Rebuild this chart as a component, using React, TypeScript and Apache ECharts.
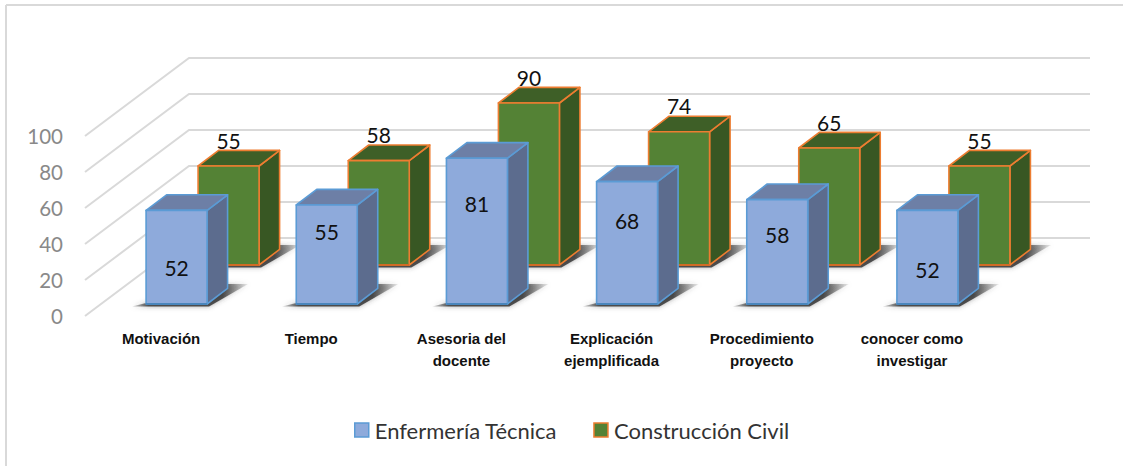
import React, { useEffect, useRef } from "react";
import * as echarts from "echarts";

const categories = [
  "Motivación",
  "Tiempo",
  "Asesoria del\ndocente",
  "Explicación\nejemplificada",
  "Procedimiento\nproyecto",
  "conocer como\ninvestigar",
];
const enfermeria = [52, 55, 81, 68, 58, 52];
const construccion = [55, 58, 90, 74, 65, 55];
const yTicks = [0, 20, 40, 60, 80, 100];
// vertical drop of each hand-placed front label below its bar top (px)
const blueLabelDrop = [57, 26, 45, 39, 35, 59];

const CALIBRI = "Lato, Carlito, sans-serif";
const DEPTH_X = 20.5;
const DEPTH_Y = 15.6;
const BAR_W = 61;

type Pal = { front: string; top: string; side: string; stroke: string; bottom: string };
const bluePal: Pal = { front: "#8EAADB", top: "#6D7FA6", side: "#5C6C8E", stroke: "#5B9BD5", bottom: "#4A86BC" };
const greenPal: Pal = { front: "#548235", top: "#3E5F27", side: "#385723", stroke: "#ED7D31", bottom: "#D06B25" };

function barRenderer(pal: Pal, offX: number, offY: number, labelFor: (i: number, v: number, topY: number) => number) {
  return (params: any, api: any) => {
    const i = api.value(0);
    const v = api.value(1);
    const top = api.coord([i, v]);
    const base = api.coord([i, 0]);
    const x0 = top[0] + offX;
    const x1 = x0 + BAR_W;
    const yT = top[1] + offY;
    const yB = base[1] + offY;
    const poly = (points: number[][], fill: string, stroke = pal.stroke) => ({
      type: "polygon",
      shape: { points },
      style: { fill, stroke, lineWidth: 1.6, lineJoin: "round" },
    });
    return {
      type: "group",
      children: [
        {
          type: "polygon",
          shape: {
            points: [
              [x0 - 14, yB + 2.5],
              [x1 + 2, yB + 2.5],
              [x1 + 41, yB - 20],
              [x1 + 14, yB - 20],
            ],
          },
          style: {
            fill: {
              type: "linear",
              x: 0,
              y: 0,
              x2: 1,
              y2: 0,
              colorStops: [
                { offset: 0, color: "rgba(70,70,70,0.2)" },
                { offset: 0.14, color: "rgba(45,45,45,0.8)" },
                { offset: 0.78, color: "rgba(45,45,45,0.8)" },
                { offset: 1, color: "rgba(70,70,70,0.1)" },
              ],
            },
            shadowBlur: 5,
            shadowColor: "rgba(60,60,60,0.55)",
          },
        },
        poly([[x1, yT], [x1 + DEPTH_X, yT - DEPTH_Y], [x1 + DEPTH_X, yB - DEPTH_Y], [x1, yB]], pal.side),
        poly([[x0, yT], [x1, yT], [x1 + DEPTH_X, yT - DEPTH_Y], [x0 + DEPTH_X, yT - DEPTH_Y]], pal.top),
        poly([[x0, yT], [x1, yT], [x1, yB], [x0, yB]], pal.front),
        {
          type: "line",
          shape: { x1: x0, y1: yB, x2: x1, y2: yB },
          style: { stroke: pal.bottom, lineWidth: 1.8 },
        },
        {
          type: "text",
          style: {
            text: String(v),
            x: x0 + BAR_W / 2,
            y: labelFor(i, v, yT),
            align: "center",
            verticalAlign: "middle",
            fontFamily: CALIBRI,
            fontSize: 21,
            fill: "#111111",
          },
        },
      ],
    };
  };
}

function gridRenderer(params: any, api: any) {
  const v = api.value(1);
  const p = api.coord([0, v]);
  const band = api.size([1, 0])[0];
  const xFront = p[0] - band / 2 - 1;
  const xBack = xFront + 104;
  const yBack = p[1] - 78;
  return {
    type: "polyline",
    shape: { points: [[xFront, p[1]], [xBack, yBack], [xFront + 1005, yBack]] },
    style: { fill: "none", stroke: "#D9D9D9", lineWidth: 2 },
  };
}

export default function App() {
  const ref = useRef<HTMLDivElement>(null);
  useEffect(() => {
    const chart = echarts.init(ref.current!, undefined, { renderer: "svg" });
    chart.setOption({
      animation: false,
      backgroundColor: "#ffffff",
      graphic: [
        { type: "line", shape: { x1: 6, y1: 5, x2: 1123, y2: 5 }, style: { stroke: "#D9D9D9", lineWidth: 2 } },
        { type: "line", shape: { x1: 6, y1: 5, x2: 6, y2: 466 }, style: { stroke: "#D9D9D9", lineWidth: 2 } },
      ],
      grid: { left: 86, top: 136, width: 901, height: 180, containLabel: false },
      xAxis: {
        type: "category",
        data: categories,
        axisLine: { show: false },
        axisTick: { show: false },
        axisLabel: {
          interval: 0,
          margin: 11,
          fontFamily: "Liberation Sans, Arial, sans-serif",
          fontWeight: "bold",
          fontSize: 15,
          lineHeight: 22,
          color: "#111111",
          align: "center",
        },
      },
      yAxis: {
        type: "value",
        min: 0,
        max: 100,
        interval: 20,
        axisLine: { show: false },
        axisTick: { show: false },
        splitLine: { show: false },
        axisLabel: { margin: 23, fontFamily: CALIBRI, fontSize: 20.5, color: "#898989" },
      },
      legend: {
        left: 349,
        top: 414,
        itemWidth: 14,
        itemHeight: 14,
        itemGap: 36,
        icon: "rect",
        textStyle: { fontFamily: CALIBRI, fontSize: 22, color: "#333333", padding: [0, 0, 0, 1] },
        data: [
          { name: "Enfermería Técnica", itemStyle: { color: bluePal.front, borderColor: bluePal.stroke, borderWidth: 1.5 } },
          { name: "Construcción Civil", itemStyle: { color: greenPal.front, borderColor: greenPal.stroke, borderWidth: 1.5 } },
        ],
      },
      series: [
        {
          type: "custom",
          name: "grid",
          silent: true,
          renderItem: gridRenderer,
          data: yTicks.map((v) => [0, v]),
          encode: { x: 0, y: 1 },
          z: 1,
        },
        {
          type: "custom",
          name: "Construcción Civil",
          renderItem: barRenderer(greenPal, 37, -51, (_i, _v, yT) => yT - 26),
          data: construccion.map((v, i) => [i, v]),
          encode: { x: 0, y: 1 },
          itemStyle: { color: greenPal.front },
          z: 2,
        },
        {
          type: "custom",
          name: "Enfermería Técnica",
          renderItem: barRenderer(bluePal, -15, -12, (i, _v, yT) => yT + blueLabelDrop[i]),
          data: enfermeria.map((v, i) => [i, v]),
          encode: { x: 0, y: 1 },
          itemStyle: { color: bluePal.front },
          z: 3,
        },
      ],
    });
    return () => chart.dispose();
  }, []);
  return <div ref={ref} style={{ position: "fixed", left: 0, top: 0, width: 1123, height: 466 }} />;
}
